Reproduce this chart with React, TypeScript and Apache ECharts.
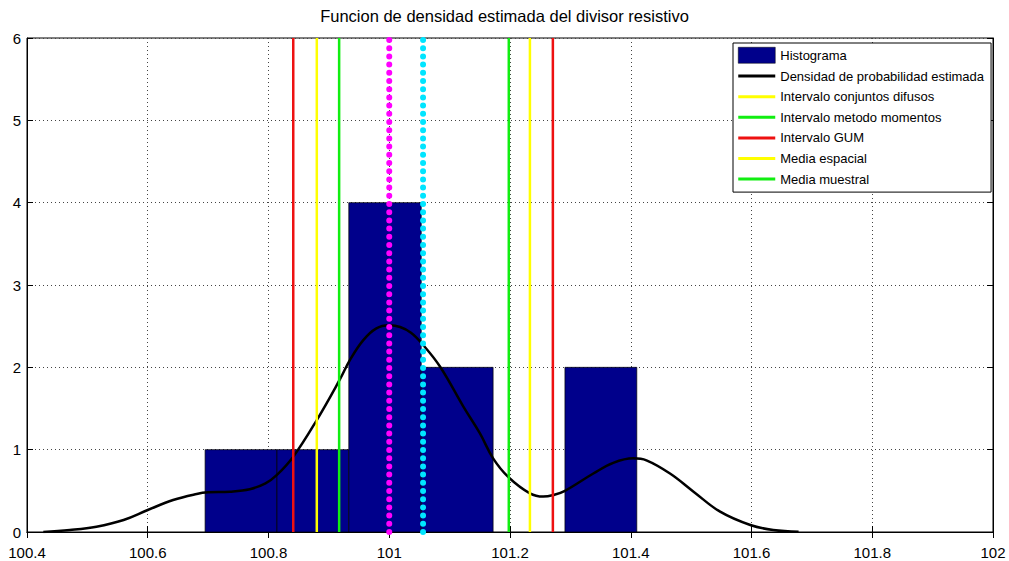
import React, { useEffect, useRef } from "react";
import * as echarts from "echarts";

// ---- data ----
const titleText = "Funcion de densidad estimada del divisor resistivo";

// histogram bins: [left edge, right edge, count]
const binEdges = [100.695, 100.814, 100.933, 101.053, 101.172, 101.291, 101.410];
const binCounts = [1, 1, 4, 2, 0, 2];

// estimated density curve [x, y]
const densityX = [
  100.427, 100.471, 100.515, 100.560, 100.600, 100.642, 100.681, 100.700, 100.736,
  100.769, 100.795, 100.8135, 100.841, 100.880, 100.918, 100.935, 100.957, 100.978,
  101.000, 101.018, 101.036, 101.054, 101.084, 101.123, 101.150, 101.172, 101.197,
  101.233, 101.255, 101.272, 101.291, 101.338, 101.371, 101.404, 101.426, 101.465,
  101.504, 101.548, 101.598, 101.636, 101.678,
];
const densityY = [
  0.0, 0.024, 0.065, 0.146, 0.267, 0.389, 0.462, 0.482, 0.49,
  0.52, 0.59, 0.69, 0.915, 1.36, 1.85, 2.09, 2.33, 2.47,
  2.51, 2.49, 2.42, 2.29, 2.01, 1.52, 1.20, 0.895, 0.67,
  0.47, 0.43, 0.45, 0.50, 0.71, 0.84, 0.895, 0.87, 0.71,
  0.49, 0.247, 0.085, 0.024, 0.004,
];

// vertical reference lines
const fuzzyInterval = [100.880, 101.233];
const momentsInterval = [100.917, 101.198];
const gumInterval = [100.841, 101.271];
const meanMagenta = 101.0;
const meanCyan = 101.056;

const xTicks = { min: 100.4, max: 102, step: 0.2 };
const yTicks = { min: 0, max: 6, step: 1 };

const legendNames = [
  "Histograma",
  "Densidad de probabilidad estimada",
  "Intervalo conjuntos difusos",
  "Intervalo metodo momentos",
  "Intervalo GUM",
  "Media espacial",
  "Media muestral",
];

const FONT = "'Liberation Sans', Arial, Helvetica, sans-serif";
const NAVY = "#00008B";
const YELLOW = "#ffff00";
const GREEN = "#11ee11";
const RED = "#ee1111";

// line icon 37x16 box with a 3px bar in the middle (tiny corner specks keep the box size)
const LINE_ICON =
  "path://M0,0h0.01v0.01h-0.01z M0,6.5H37V9.5H0Z M36.99,15.99h0.01v0.01h-0.01z";

function vline(name: string, x: number, color: string, extra: any = {}) {
  return {
    name,
    type: "line",
    data: [
      [x, yTicks.min],
      [x, yTicks.max],
    ],
    symbol: "none",
    lineStyle: { color, width: 2.5, ...extra },
    itemStyle: { color },
    z: 5,
  };
}

export default function App() {
  const ref = useRef<HTMLDivElement>(null);

  useEffect(() => {
    if (!ref.current) return;
    const chart = echarts.init(ref.current, null, { renderer: "svg" });

    const histData = binCounts
      .map((c, i) => [binEdges[i], binEdges[i + 1], c])
      .filter((d) => d[2] > 0);
    const densityData = densityX.map((x, i) => [x, densityY[i]]);

    const fmt = (v: number) => String(parseFloat(v.toFixed(1)));

    const dotted = { type: [0, 8.2], cap: "round", width: 6 };

    const lineItem = (name: string, color: string) => ({
      name,
      icon: LINE_ICON,
      itemStyle: { color, borderWidth: 0 },
    });

    chart.setOption({
      animation: false,
      backgroundColor: "#fff",
      title: {
        text: titleText,
        left: "center",
        top: 2,
        textStyle: { fontFamily: FONT, fontSize: 16.5, fontWeight: "normal", color: "#000" },
      },
      grid: { left: 27, right: 16, top: 38, bottom: 29, show: true, borderColor: "#000", borderWidth: 1 },
      legend: {
        orient: "vertical",
        left: 733,
        top: 43,
        padding: [4, 7, 5, 5],
        itemWidth: 37,
        itemHeight: 16,
        itemGap: 4.6,
        backgroundColor: "#fff",
        borderColor: "#000",
        borderWidth: 1,
        borderRadius: 0,
        textStyle: { fontFamily: FONT, fontSize: 13, color: "#000" },
        data: [
          { name: legendNames[0], icon: "rect", itemStyle: { color: NAVY, borderColor: "#000", borderWidth: 0.5 } },
          lineItem(legendNames[1], "#000"),
          lineItem(legendNames[2], YELLOW),
          lineItem(legendNames[3], GREEN),
          lineItem(legendNames[4], RED),
          lineItem(legendNames[5], YELLOW),
          lineItem(legendNames[6], GREEN),
        ],
        selectedMode: false,
      },
      xAxis: [
        {
          type: "value",
          min: xTicks.min,
          max: xTicks.max,
          interval: xTicks.step,
          axisLine: { show: true, lineStyle: { color: "#000", width: 1 } },
          axisTick: { show: true, inside: true, length: 6, lineStyle: { color: "#000" } },
          axisLabel: { fontFamily: FONT, fontSize: 15, color: "#000", margin: 13, formatter: fmt },
          splitLine: { show: true, lineStyle: { color: "#444", type: [1, 3], width: 1 } },
        },
        {
          type: "value",
          position: "top",
          min: xTicks.min,
          max: xTicks.max,
          interval: xTicks.step,
          axisLine: { show: true, lineStyle: { color: "#000", width: 1 } },
          axisTick: { show: true, inside: true, length: 6, lineStyle: { color: "#000" } },
          axisLabel: { show: false },
          splitLine: { show: false },
        },
      ],
      yAxis: [
        {
          type: "value",
          min: yTicks.min,
          max: yTicks.max,
          interval: yTicks.step,
          axisLine: { show: true, lineStyle: { color: "#000", width: 1 } },
          axisTick: { show: true, inside: true, length: 6, lineStyle: { color: "#000" } },
          axisLabel: { fontFamily: FONT, fontSize: 15, color: "#000", margin: 6 },
          splitLine: { show: true, lineStyle: { color: "#444", type: [1, 3], width: 1 } },
        },
        {
          type: "value",
          position: "right",
          min: yTicks.min,
          max: yTicks.max,
          interval: yTicks.step,
          axisLine: { show: true, lineStyle: { color: "#000", width: 1 } },
          axisTick: { show: true, inside: true, length: 6, lineStyle: { color: "#000" } },
          axisLabel: { show: false },
          splitLine: { show: false },
        },
      ],
      series: [
        {
          name: legendNames[0],
          type: "custom",
          data: histData,
          encode: { x: [0, 1], y: 2 },
          itemStyle: { color: NAVY },
          z: 2,
          renderItem: (params: any, api: any) => {
            const p0 = api.coord([api.value(0), api.value(2)]);
            const p1 = api.coord([api.value(1), 0]);
            return {
              type: "rect",
              shape: { x: p0[0], y: p0[1], width: p1[0] - p0[0], height: p1[1] - p0[1] },
              style: { fill: NAVY, stroke: "#000", lineWidth: 0.7 },
            };
          },
        },
        {
          name: legendNames[1],
          type: "line",
          data: densityData,
          smooth: 0.4,
          symbol: "none",
          lineStyle: { color: "#000", width: 2.5 },
          itemStyle: { color: "#000" },
          z: 4,
        },
        vline(legendNames[2], fuzzyInterval[0], YELLOW),
        vline(legendNames[3], momentsInterval[0], GREEN),
        vline(legendNames[4], gumInterval[0], RED),
        vline(legendNames[4], gumInterval[1], RED),
        vline(legendNames[5], fuzzyInterval[1], YELLOW),
        vline(legendNames[6], momentsInterval[1], GREEN),
        vline("Media A", meanMagenta, "#ff00ff", dotted),
        vline("Media B", meanCyan, "#00e5ff", dotted),
      ],
    });

    return () => chart.dispose();
  }, []);

  return (
    <div
      ref={ref}
      style={{ position: "absolute", left: 0, top: 0, width: 1009, height: 561, background: "#fff" }}
    />
  );
}
